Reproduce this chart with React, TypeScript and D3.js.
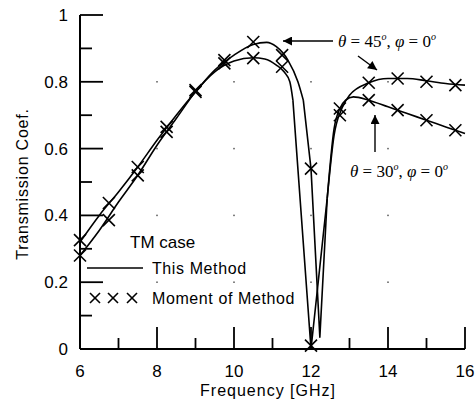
import React from "react";
import * as d3 from "d3";

// ---- data ----
const freq45 = [6.0, 6.5, 7.0, 7.5, 8.0, 8.5, 9.0, 9.5, 10.0, 10.5, 10.85, 11.1, 11.4, 11.66, 11.8, 12.0, 12.23, 12.42, 12.6, 12.8, 13.0, 13.5, 14.0, 14.5, 15.0, 15.5, 16.0];
const trans45 = [0.32, 0.40, 0.47, 0.545, 0.625, 0.70, 0.77, 0.835, 0.88, 0.912, 0.918, 0.905, 0.865, 0.80, 0.745, 0.54, 0.035, 0.45, 0.64, 0.72, 0.76, 0.797, 0.81, 0.81, 0.803, 0.795, 0.79];
const dip45 = [14, 17]; // index range of the sharp notch

const freq30 = [6.0, 6.5, 7.0, 7.5, 8.0, 8.5, 9.0, 9.5, 10.0, 10.5, 10.8, 11.1, 11.3, 11.45, 11.53, 12.0, 12.42, 12.6, 12.75, 12.9, 13.1, 13.5, 14.0, 14.5, 15.0, 15.5, 16.0];
const trans30 = [0.28, 0.355, 0.44, 0.52, 0.61, 0.69, 0.77, 0.83, 0.862, 0.872, 0.868, 0.85, 0.83, 0.80, 0.745, 0.0, 0.45, 0.66, 0.72, 0.745, 0.755, 0.745, 0.725, 0.705, 0.685, 0.665, 0.645];
const dip30 = [14, 16];

const momFreq = [6.0, 6.75, 7.5, 8.25, 9.0, 9.75, 10.5, 11.25, 12.0, 12.75, 13.5, 14.25, 15.0, 15.75];
const mom45 = [0.326, 0.437, 0.545, 0.665, 0.775, 0.865, 0.919, 0.88, 0.54, 0.70, 0.797, 0.81, 0.80, 0.79];
const mom30 = [0.28, 0.386, 0.52, 0.65, 0.77, 0.855, 0.871, 0.845, 0.01, 0.72, 0.745, 0.715, 0.685, 0.655];

const xMajorTicks = [6, 8, 10, 12, 14, 16];
const xMinorTicks = [7, 9, 11, 13, 15];
const yMajorTicks = [0, 0.2, 0.4, 0.6, 0.8, 1];
const yMinorTicks = [0.1, 0.3, 0.5, 0.7, 0.9];
const yTickLabels = ["0", "0.2", "0.4", "0.6", "0.8", "1"];
const gridX = [8, 10, 12, 14];
const gridY = [0.2, 0.4, 0.6, 0.8];

const SANS = "'Liberation Sans', Arial, sans-serif";
const SERIF = "'Liberation Serif', 'Times New Roman', serif";

function Cross({ cx, cy, r }: { cx: number; cy: number; r: number }) {
  return (
    <g stroke="#000" strokeWidth={1.6}>
      <line x1={cx - r} y1={cy - r} x2={cx + r} y2={cy + r} />
      <line x1={cx - r} y1={cy + r} x2={cx + r} y2={cy - r} />
    </g>
  );
}

function AngleLabel({ x, y, theta }: { x: number; y: number; theta: string }) {
  return (
    <text x={x} y={y} fontFamily={SERIF} fontSize={17} fill="#000">
      <tspan fontStyle="italic">θ</tspan>
      <tspan> = {theta}</tspan>
      <tspan fontStyle="italic" fontSize={10} dy={-7}>o</tspan>
      <tspan dy={7}>, </tspan>
      <tspan fontStyle="italic">φ</tspan>
      <tspan> = 0</tspan>
      <tspan fontStyle="italic" fontSize={10} dy={-7}>o</tspan>
    </text>
  );
}

export default function App() {
  const W = 475, H = 403;
  const x = d3.scaleLinear().domain([6, 16]).range([80, 465]);
  const y = d3.scaleLinear().domain([0, 1]).range([349, 15]);

  const smooth = d3
    .line<[number, number]>()
    .x((d) => x(d[0]))
    .y((d) => y(d[1]))
    .curve(d3.curveMonotoneX);
  const straight = d3
    .line<[number, number]>()
    .x((d) => x(d[0]))
    .y((d) => y(d[1]))
    .curve(d3.curveLinear);

  const paths = (fs: number[], vs: number[], dip: number[]) => {
    const pts = fs.map((f, i) => [f, vs[i]] as [number, number]);
    return [
      smooth(pts.slice(0, dip[0] + 1)) || "",
      straight(pts.slice(dip[0], dip[1] + 1)) || "",
      smooth(pts.slice(dip[1])) || "",
    ];
  };

  const all = [...paths(freq45, trans45, dip45), ...paths(freq30, trans30, dip30)];

  return (
    <svg
      width={W}
      height={H}
      style={{ position: "absolute", left: 0, top: 0, background: "#fff" }}
    >
      <defs>
        <marker id="ah" viewBox="0 0 10 10" refX="10" refY="5" markerWidth="11" markerHeight="9" markerUnits="userSpaceOnUse" orient="auto">
          <path d="M0,0 L10,5 L0,10 z" fill="#000" />
        </marker>
      </defs>

      {/* grid dots */}
      {gridX.map((gx) =>
        gridY.map((gy) => (
          <rect key={`g${gx}-${gy}`} x={x(gx) - 0.75} y={y(gy) - 0.75} width={1.5} height={1.5} fill="#555" />
        ))
      )}

      {/* axes */}
      <line x1={x(6)} y1={y(1)} x2={x(6)} y2={y(0)} stroke="#000" strokeWidth={2} />
      <line x1={x(6)} y1={y(0)} x2={x(16)} y2={y(0)} stroke="#000" strokeWidth={2} />

      {yMajorTicks.map((t) => (
        <line key={`ym${t}`} x1={x(6)} x2={x(6) + 23} y1={y(t)} y2={y(t)} stroke="#000" strokeWidth={1.8} />
      ))}
      {yMinorTicks.map((t) => (
        <line key={`yn${t}`} x1={x(6)} x2={x(6) + 12} y1={y(t)} y2={y(t)} stroke="#000" strokeWidth={1.8} />
      ))}
      {xMajorTicks.map((t) => (
        <line key={`xm${t}`} x1={x(t)} x2={x(t)} y1={y(0)} y2={y(0) - 22} stroke="#000" strokeWidth={1.8} />
      ))}
      {xMinorTicks.map((t) => (
        <line key={`xn${t}`} x1={x(t)} x2={x(t)} y1={y(0)} y2={y(0) - 11} stroke="#000" strokeWidth={1.8} />
      ))}

      {/* tick labels */}
      {yMajorTicks.map((t, i) => (
        <text key={`yl${t}`} x={68} y={y(t) + 6} textAnchor="end" fontFamily={SANS} fontSize={17} fill="#000">
          {yTickLabels[i]}
        </text>
      ))}
      {xMajorTicks.map((t) => (
        <text key={`xl${t}`} x={x(t)} y={377} textAnchor="middle" fontFamily={SANS} fontSize={17} fill="#000">
          {t}
        </text>
      ))}

      {/* axis titles */}
      <text x={268} y={396} textAnchor="middle" fontFamily={SANS} fontSize={16} letterSpacing={1} fill="#000">
        Frequency [GHz]
      </text>
      <text
        transform="translate(28,184) rotate(-90)"
        textAnchor="middle"
        fontFamily={SANS}
        fontSize={16}
        letterSpacing={0.8}
        fill="#000"
      >
        Transmission Coef.
      </text>

      {/* curves */}
      {all.map((d, i) => (
        <path key={`c${i}`} d={d} fill="none" stroke="#000" strokeWidth={1.6} strokeLinejoin="round" />
      ))}

      {/* moment of method markers */}
      {momFreq.map((f, i) => (
        <Cross key={`a${f}`} cx={x(f)} cy={y(mom45[i])} r={6} />
      ))}
      {momFreq.map((f, i) => (
        <Cross key={`b${f}`} cx={x(f)} cy={y(mom30[i])} r={6} />
      ))}

      {/* annotations */}
      <line x1={333} y1={41} x2={283} y2={41} stroke="#000" strokeWidth={1.4} markerEnd="url(#ah)" />
      <AngleLabel x={338} y={47} theta="45" />
      <line x1={358} y1={56} x2={377} y2={70} stroke="#000" strokeWidth={1.4} markerEnd="url(#ah)" />
      <line x1={375} y1={152} x2={375} y2={115} stroke="#000" strokeWidth={1.4} markerEnd="url(#ah)" />
      <AngleLabel x={350} y={177} theta="30" />

      {/* legend */}
      <text x={130} y={248} fontFamily={SANS} fontSize={17} fill="#000">TM case</text>
      <line x1={87} x2={143} y1={268} y2={268} stroke="#000" strokeWidth={1.6} />
      <text x={152} y={274} fontFamily={SANS} fontSize={16} letterSpacing={0.6} fill="#000">This Method</text>
      {[95, 113, 132].map((lx) => (
        <Cross key={`l${lx}`} cx={lx} cy={298} r={5} />
      ))}
      <text x={152} y={304} fontFamily={SANS} fontSize={16} letterSpacing={0.6} fill="#000">Moment of Method</text>
    </svg>
  );
}
